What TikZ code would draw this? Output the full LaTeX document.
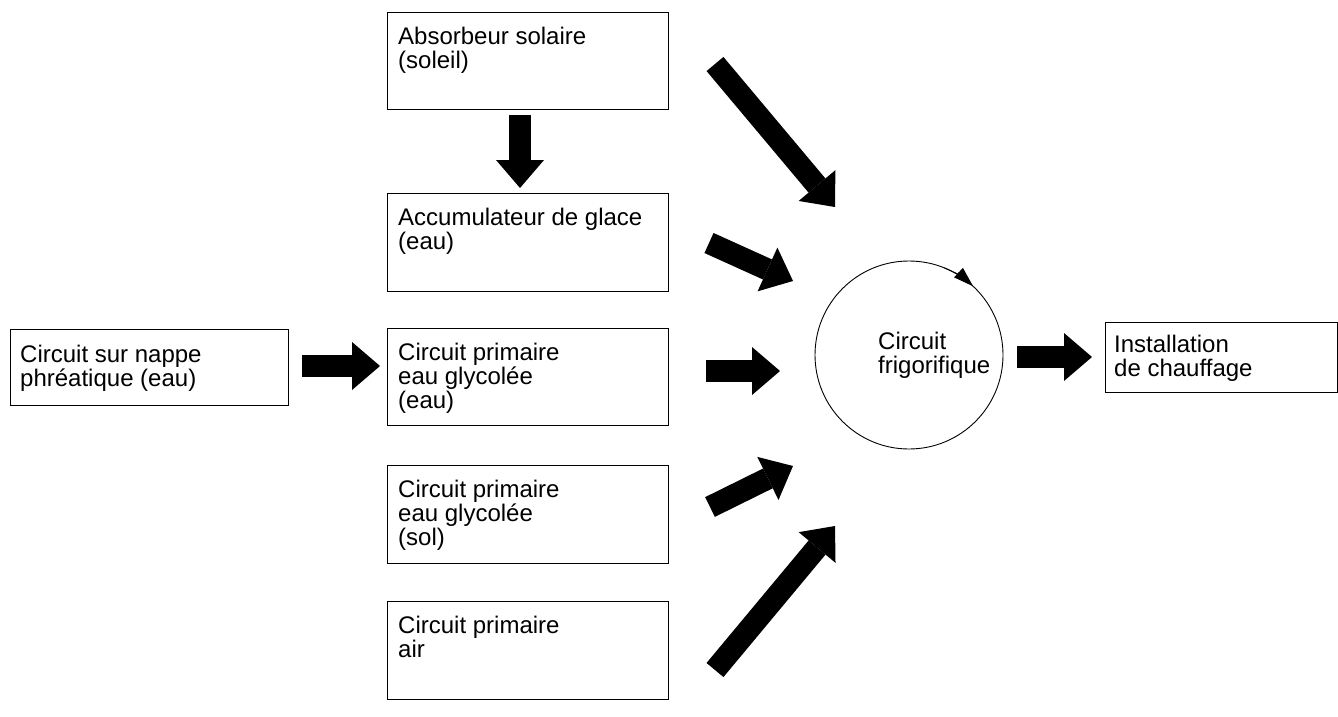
\documentclass[tikz,border=0pt]{standalone}
\usepackage{fontspec}
\setmainfont{Liberation Sans}
\usetikzlibrary{arrows.meta,calc}
\begin{document}
\begin{tikzpicture}[x=1pt,y=-1pt,
  box/.style={draw, line width=0.9pt, anchor=north west, inner sep=0pt},
  lbl/.style={anchor=north west, inner sep=0pt, align=left, font=\fontsize{24pt}{24pt}\selectfont},
  blockarrow/.style={line width=22pt, -{Triangle[length=28pt 0 0, width=48pt 0 0, line width=0pt]}},
  thin/.style={line width=0.9pt}
]
\useasboundingbox (0,0) rectangle (1338,717);
\fill[white] (0,0) rectangle (1338,717);

% boxes
\node[box, minimum width=281pt, minimum height=97pt] (abs) at (387,12) {};
\node[box, minimum width=281pt, minimum height=98pt] (acc) at (387,193) {};
\node[box, minimum width=281pt, minimum height=97pt] (pe) at (387,328) {};
\node[box, minimum width=281pt, minimum height=98pt] (ps) at (387,465) {};
\node[box, minimum width=281pt, minimum height=98pt] (pa) at (387,601) {};
\node[box, minimum width=278pt, minimum height=76pt] (nap) at (10,329) {};
\node[box, minimum width=232pt, minimum height=70pt] (inst) at (1105,322) {};

% texts
\node[lbl] at ($(abs.north west)+(11,15)$) {Absorbeur solaire\\(soleil)};
\node[lbl] at ($(acc.north west)+(11,15)$) {Accumulateur de glace\\(eau)};
\node[lbl] at ($(pe.north west)+(11,15)$) {Circuit primaire\\eau glycolée\\(eau)};
\node[lbl] at ($(ps.north west)+(11,15)$) {Circuit primaire\\eau glycolée\\(sol)};
\node[lbl] at ($(pa.north west)+(11,15)$) {Circuit primaire\\air};
\node[lbl] at ($(nap.north west)+(10,16)$) {Circuit sur nappe\\phréatique (eau)};
\node[lbl] at ($(inst.north west)+(9,13)$) {Installation\\de chauffage};

% circle
\node[draw, thin, circle, minimum size=188pt, inner sep=0pt] (fr) at (909,355) {};
\node[lbl, anchor=west] at (878,355) {Circuit\\frigorifique};
\draw[thin, -{Triangle[length=20pt 0 0, width=13pt 0 0, line width=0pt]}]
  (fr.center) ++(-68:94) arc[start angle=-68, end angle=-47, radius=94];

% block arrows
\coordinate (a0t) at (520,115); \coordinate (a0h) at (520,188);
\coordinate (a1t) at (715,64);  \coordinate (a1h) at (835,207);
\coordinate (a2t) at (709,243); \coordinate (a2h) at (793,281);
\coordinate (a3t) at (706,371); \coordinate (a3h) at (780,371);
\coordinate (a4t) at (710,507); \coordinate (a4h) at (793,466);
\coordinate (a5t) at (715,670); \coordinate (a5h) at (835,526);
\coordinate (ant) at (302,366); \coordinate (anh) at (380,366);
\coordinate (art) at (1017,357); \coordinate (arh) at (1092,357);

\draw[blockarrow] (a0t) -- (a0h);
\draw[blockarrow] (a1t) -- (a1h);
\draw[blockarrow] (a2t) -- (a2h);
\draw[blockarrow] (a3t) -- (a3h);
\draw[blockarrow] (a4t) -- (a4h);
\draw[blockarrow] (a5t) -- (a5h);
\draw[blockarrow] (ant) -- (anh);
\draw[blockarrow] (art) -- (arh);
\end{tikzpicture}
\end{document}
